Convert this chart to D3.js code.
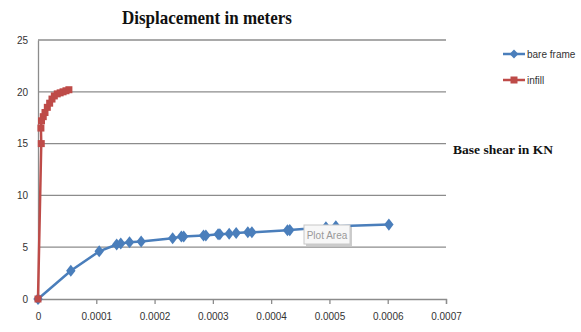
<!DOCTYPE html>
<html>
<head>
<meta charset="utf-8">
<script src="https://cdn.jsdelivr.net/npm/d3@7"></script>
<style>
  body { margin: 0; background: #fff; }
  svg { display: block; }
</style>
</head>
<body>
<script>
// Data
var seriesNames = ["bare frame", "infill"];

var bareX = [0, 0.0000563, 0.000105, 0.000135, 0.000142, 0.000157, 0.000177, 0.000231, 0.000246,
  0.00025, 0.000284, 0.000288, 0.000309, 0.000312, 0.000328, 0.00034, 0.00036, 0.000367,
  0.000428, 0.000432, 0.000494, 0.000511, 0.000602];
var bareY = [0, 2.72, 4.6, 5.26, 5.36, 5.48, 5.55, 5.87, 6.03,
  6.03, 6.12, 6.12, 6.25, 6.25, 6.3, 6.38, 6.44, 6.44,
  6.63, 6.65, 6.92, 7.02, 7.18];

var infillX = [0, 0.0000056, 0.000005, 0.000006, 0.000009, 0.000012, 0.000016, 0.00002, 0.000024,
  0.000028, 0.000033, 0.000038, 0.000043, 0.000048, 0.000053];
var infillY = [0, 15, 16.5, 17.2, 17.6, 18.0, 18.5, 18.9, 19.3,
  19.6, 19.8, 19.9, 20.0, 20.1, 20.2];

var xTicks = [0, 0.0001, 0.0002, 0.0003, 0.0004, 0.0005, 0.0006, 0.0007];
var yTicks = [0, 5, 10, 15, 20, 25];

var svgWidth = 581;
var svgHeight = 332;

var margin = { top: 40, right: 135, bottom: 33, left: 38 };
var chartWidth = 446 - margin.left;
var chartHeight = 299 - margin.top;

var svg = d3.select("body")
  .append("svg")
  .attr("width", svgWidth)
  .attr("height", svgHeight);

var chartGroup = svg.append("g")
  .attr("transform", `translate(${margin.left}, ${margin.top})`);

var xScale = d3.scaleLinear()
  .domain([0, 0.0007])
  .range([0, chartWidth]);

var yScale = d3.scaleLinear()
  .domain([0, 25])
  .range([chartHeight, 0]);

// horizontal gridlines
chartGroup.selectAll(".grid")
  .data(yTicks.slice(1))
  .enter()
  .append("line")
  .attr("x1", 0)
  .attr("x2", chartWidth)
  .attr("y1", d => yScale(d))
  .attr("y2", d => yScale(d))
  .attr("stroke", "#8c8c8c")
  .attr("stroke-width", 1.3);

// y axis
var yAxis = d3.axisLeft(yScale)
  .tickValues(yTicks)
  .tickSize(0)
  .tickPadding(10)
  .tickFormat(d3.format("d"));
var yG = chartGroup.append("g").call(yAxis);
yG.select(".domain").attr("stroke", "#8c8c8c").attr("stroke-width", 1.3);

// x axis
var xAxis = d3.axisBottom(xScale)
  .tickValues(xTicks)
  .tickSize(5)
  .tickPadding(9)
  .tickFormat(d => d === 0 ? "0" : d3.format(".4f")(d));
var xG = chartGroup.append("g")
  .attr("transform", `translate(0, ${chartHeight})`)
  .call(xAxis);
xG.select(".domain").attr("stroke", "#8c8c8c").attr("stroke-width", 1.3);
xG.selectAll(".tick line").attr("stroke", "#8c8c8c").attr("stroke-width", 1.3);

svg.selectAll(".tick text")
  .attr("font-family", "'Liberation Sans Narrow', 'Liberation Sans', sans-serif")
  .attr("font-size", 10)
  .attr("fill", "#333");

// "Plot Area" tooltip (sits under the line in the picture)
var tip = svg.append("g").attr("transform", "translate(304, 225)");
tip.append("rect").attr("x", 2).attr("y", 2).attr("width", 46).attr("height", 19).attr("fill", "#999").attr("opacity", 0.5);
tip.append("rect").attr("width", 46).attr("height", 19).attr("fill", "#f7f7f7").attr("stroke", "#c8c8c8");
tip.append("text").attr("x", 23).attr("y", 14).attr("text-anchor", "middle")
  .attr("font-family", "'Liberation Sans Narrow', 'Liberation Sans', sans-serif")
  .attr("font-size", 10)
  .attr("fill", "#999")
  .text("Plot Area");

var line = d3.line()
  .x(d => xScale(d[0]))
  .y(d => yScale(d[1]));

var bareData = bareX.map((x, i) => [x, bareY[i]]);
var infillData = infillX.map((x, i) => [x, infillY[i]]);

var blue = "#4a7ebb";
var red = "#be4b48";

// bare frame
chartGroup.append("path")
  .datum(bareData)
  .attr("fill", "none")
  .attr("stroke", blue)
  .attr("stroke-width", 2.5)
  .attr("d", line);

var diamond = d3.symbol().type(d3.symbolDiamond2).size(70);
chartGroup.selectAll(".bare")
  .data(bareData)
  .enter()
  .append("path")
  .attr("transform", d => `translate(${xScale(d[0])}, ${yScale(d[1])}) scale(0.9, 1.15)`)
  .attr("d", diamond)
  .attr("fill", blue);

// infill
chartGroup.append("path")
  .datum(infillData)
  .attr("fill", "none")
  .attr("stroke", red)
  .attr("stroke-width", 2.5)
  .attr("d", line);

chartGroup.selectAll(".infill")
  .data(infillData)
  .enter()
  .append("rect")
  .attr("x", d => xScale(d[0]) - 3.5)
  .attr("y", d => yScale(d[1]) - 3.5)
  .attr("width", 7)
  .attr("height", 7)
  .attr("fill", red);

// title
svg.append("text")
  .attr("x", 122)
  .attr("y", 24)
  .attr("textLength", 170)
  .attr("lengthAdjust", "spacingAndGlyphs")
  .attr("font-family", "'Liberation Serif', 'Times New Roman', serif")
  .attr("font-weight", "bold")
  .attr("font-size", 19)
  .attr("fill", "#111")
  .text("Displacement in meters");

// y axis title placed at right
svg.append("text")
  .attr("x", 453)
  .attr("y", 154)
  .attr("textLength", 100)
  .attr("lengthAdjust", "spacingAndGlyphs")
  .attr("font-family", "'Liberation Serif', 'Times New Roman', serif")
  .attr("font-weight", "bold")
  .attr("font-size", 13)
  .attr("fill", "#111")
  .text("Base shear in KN");

// legend
var legend = svg.append("g").attr("transform", "translate(503, 54)");
seriesNames.forEach(function(name, i) {
  var g = legend.append("g").attr("transform", `translate(0, ${i * 26})`);
  var c = i === 0 ? blue : red;
  g.append("line").attr("x1", 0).attr("x2", 22).attr("y1", 0).attr("y2", 0)
    .attr("stroke", c).attr("stroke-width", 2.5);
  if (i === 0) {
    g.append("path").attr("transform", "translate(11,0)")
      .attr("d", d3.symbol().type(d3.symbolDiamond2).size(50)).attr("fill", c);
  } else {
    g.append("rect").attr("x", 7.5).attr("y", -3.5).attr("width", 7).attr("height", 7).attr("fill", c);
  }
  g.append("text").attr("x", 24).attr("y", 3.5)
    .attr("font-family", "'Liberation Sans Narrow', 'Liberation Sans', sans-serif")
    .attr("font-size", 10)
    .attr("fill", "#333")
    .text(name);
});
</script>
</body>
</html>
